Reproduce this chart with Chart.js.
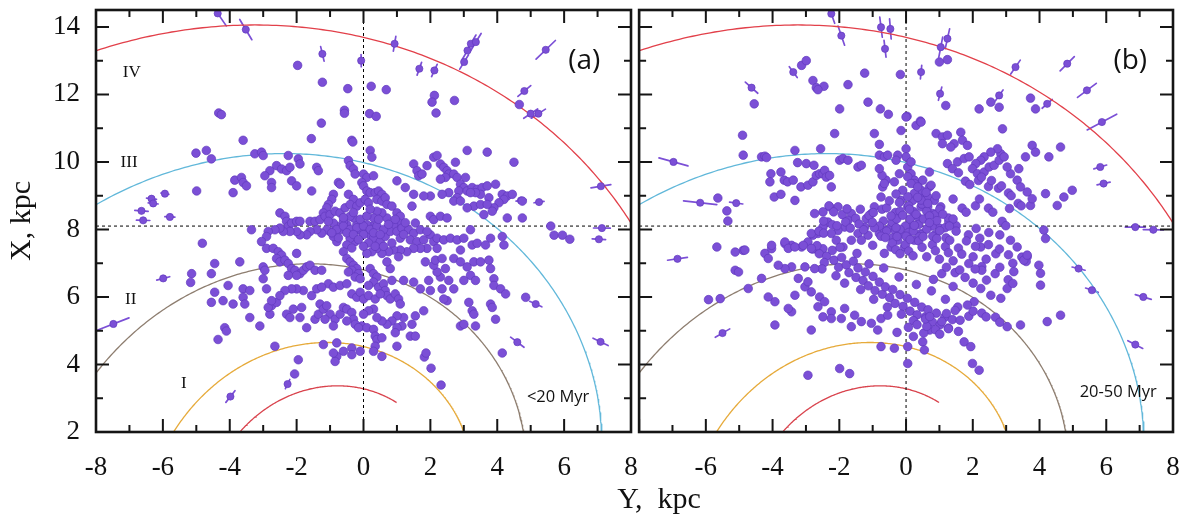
<!DOCTYPE html>
<html><head><meta charset="utf-8">
<script src="https://cdn.jsdelivr.net/npm/chart.js@4.4.1/dist/chart.umd.min.js"></script>
<style>
html,body{margin:0;padding:0;background:#fff;}
#wrap{position:relative;width:1183px;height:515px;overflow:hidden;background:#fff;}
#ca{position:absolute;left:0;top:0;}
#cb{position:absolute;left:634px;top:0;}
#xt{position:absolute;left:559px;top:481px;width:200px;text-align:center;line-height:36px;font:30px "Liberation Serif","Times New Roman",serif;color:#111;white-space:pre;}
</style></head><body>
<div id="wrap">
<canvas id="ca" width="660" height="515"></canvas>
<canvas id="cb" width="549" height="515"></canvas>
<div id="xt">Y,  kpc</div>
</div>
<script>
// ---------------- data ----------------
const xTicksA = [-8,-6,-4,-2,0,2,4,6,8];
const xTicksB = [-6,-4,-2,0,2,4,6,8];
const yTicks = [2,4,6,8,10,12,14];
const xRange = [-8, 8];
const yRange = [2, 14.5];
const sunPos = [0, 8.1];                 // [Y, X] of the Sun
const pitchDeg = -13;                    // spiral pitch angle
const armR0 = [13.69, 9.98, 6.80, 4.53, 3.28];   // arm radius where it crosses Y=0
const armThetaMin = [-80, -80, -80, -80, -80];
const armThetaMax = [80, 80, 80, 80, 19];
const armText = ['IV','III','II','I'];
const armTextY = [-6.93, -7.01, -6.96, -5.37];
const armTextX = [12.65, 9.99, 5.93, 3.45];
const panelTags = ['(a)','(b)'];
const panelTagPos = [[6.6, 12.98],[6.72, 13.0]];
const ageText = ['<20 Myr','20-50 Myr'];
const ageTextPos = [[5.82, 3.04],[6.36, 3.18]];

// panel (a) points [Y, X]
const pointsA = [
[-4.70,10.34],[-4.55,10.09],[-3.60,10.64],[-3.25,10.24],[-3.05,10.29],[-3.00,10.19],[-2.25,10.19],[-1.95,10.09],[-1.90,9.94],[-1.40,9.84],[-1.35,9.74],[-2.80,9.74],[-2.60,9.89],[-2.45,9.79],[-2.30,9.74],[-2.20,9.84],[-2.95,9.59],[-3.85,9.46],[-3.65,9.54],[-3.60,9.39],[-3.50,9.29],[-3.90,9.09],[-2.75,9.39],[-2.75,9.24],[-2.15,9.44],[-2.00,9.29],[-1.55,9.14],[-0.35,10.64],[-0.45,10.04],[-0.40,9.89],[-0.30,9.79],[-0.25,9.64],[0.20,10.34],[0.25,10.14],[0.00,9.64],[0.10,9.54],[0.30,9.59],[-0.75,9.39],[-0.70,9.34],[-0.05,9.39],[0.00,9.29],[0.10,9.14],[0.20,9.09],[0.35,9.09],[0.45,9.14],[0.55,9.04],[-0.45,9.04],[-0.30,8.89],[-0.90,9.04],[-0.95,8.89],[-1.05,8.74],[-1.10,8.64],[-1.20,8.49],[-2.50,8.49],[-2.35,8.39],[-2.30,8.24],[-2.25,8.09],[-2.15,8.19],[-2.00,8.24],[-1.90,8.24],[-1.60,8.24],[-1.45,8.24],[-1.30,8.29],[-1.15,8.39],[-1.00,8.44],[-0.85,8.54],[-0.70,8.49],[-0.55,8.64],[-0.40,8.74],[-0.20,8.69],[-0.10,8.79],[0.05,8.89],[0.15,8.79],[0.40,8.89],[0.55,8.84],[0.65,8.94],[0.70,8.74],[0.85,8.69],[1.00,8.49],[1.10,8.39],[1.05,8.19],[0.90,8.14],[0.70,8.34],[0.55,8.49],[0.40,8.54],[0.30,8.34],[0.25,8.09],[0.10,8.14],[-0.10,8.24],[-0.20,8.14],[-0.30,8.34],[-0.40,8.39],[-0.50,8.14],[-0.60,8.24],[-0.70,7.99],[-0.80,8.09],[-0.90,8.19],[-1.05,8.24],[-0.20,7.99],[-0.05,7.94],[0.10,7.94],[0.20,7.84],[0.30,7.74],[0.50,7.64],[0.65,7.79],[0.80,7.94],[1.00,7.94],[1.15,8.04],[1.35,7.99],[1.50,7.89],[1.55,8.19],[1.10,7.74],[1.40,7.69],[1.60,7.64],[1.80,7.69],[2.00,7.84],[2.10,7.64],[2.20,7.44],[1.90,7.44],[1.70,7.44],[1.50,7.44],[1.30,7.34],[1.10,7.39],[0.90,7.39],[0.75,7.34],[0.55,7.29],[0.40,7.44],[0.25,7.34],[0.10,7.29],[-0.25,7.64],[-0.40,7.74],[-0.50,7.54],[-0.60,7.34],[-0.80,7.64],[-0.90,7.79],[-1.00,7.94],[-1.10,7.99],[-1.25,7.89],[-1.40,7.99],[-1.60,7.94],[-1.70,7.84],[-1.90,7.84],[-2.00,7.94],[-2.20,7.94],[-2.40,7.94],[-2.50,8.04],[-2.65,7.99],[-2.85,7.94],[-2.90,7.79],[-3.05,7.64],[-2.90,7.44],[-2.70,7.44],[-2.55,7.34],[-2.45,7.24],[-2.00,7.29],[-3.35,7.99],[-4.82,7.59],
[1.50,9.94],[1.60,9.74],[1.65,9.59],[1.75,9.64],[1.90,9.89],[2.10,10.14],[2.20,10.19],[2.30,9.94],[2.40,9.84],[2.50,9.74],[2.55,9.64],[2.45,9.54],[2.30,9.49],[2.70,9.64],[2.80,9.54],[2.90,9.34],[3.00,9.24],[2.85,9.14],[2.80,8.94],[2.70,8.84],[2.90,8.84],[3.10,9.14],[3.25,9.24],[3.40,9.19],[3.55,9.24],[3.70,9.29],[3.95,9.34],[4.15,9.04],[4.30,8.99],[4.45,9.04],[4.20,8.89],[4.05,8.79],[3.90,8.64],[3.85,8.54],[3.75,8.94],[3.50,9.04],[3.35,9.09],[3.20,9.09],[2.75,9.99],[3.05,9.54],[3.10,10.34],[3.70,10.29],[4.50,9.99],[4.75,8.84],[4.75,8.34],[4.30,8.34],[3.60,8.44],[3.30,8.69],[3.10,8.64],[3.50,8.74],[3.70,8.74],[2.00,8.39],[2.10,8.29],[2.30,8.39],[2.50,8.34],[2.55,9.09],[2.35,9.04],[2.00,8.99],[1.80,8.99],[1.50,9.04],[1.25,9.24],[1.00,9.44],[1.45,8.69],[1.70,7.99],[1.90,7.94],[2.20,7.74],[2.40,7.69],[2.60,7.74],[2.80,7.69],[3.00,7.74],[3.20,7.99],[3.25,7.54],[3.40,7.59],[3.65,7.54],[3.80,7.74],[4.15,7.79],[4.20,7.54],[2.90,7.39],
[-0.80,8.00],[-0.60,8.10],[-0.40,8.00],[-0.20,8.05],[0.00,8.10],[0.20,8.00],[0.40,8.10],[0.60,8.00],[-0.50,7.90],[-0.30,7.85],[0.00,7.85],[0.30,7.90],[0.50,7.85],[-0.10,8.30],[0.10,8.40],[-0.30,8.50],[0.20,8.60],[-0.60,8.35],[0.45,8.30],[0.75,8.15],[-0.15,7.70],[0.15,7.60],[0.35,7.50],[-0.35,7.45],[0.00,7.50],[0.60,7.50],[0.85,7.60],[-0.75,7.75],[-0.95,7.90],[1.20,7.85],[0.95,8.30],[1.25,8.20],
[-4.45,6.99],[-4.55,6.69],[-3.70,7.04],[-3.00,6.89],[-2.95,6.79],[-2.60,7.14],[-2.50,7.04],[-2.35,7.09],[-2.25,6.99],[-2.15,6.84],[-2.05,6.79],[-1.90,6.69],[-1.80,6.79],[-1.70,6.89],[-1.60,6.94],[-1.45,6.79],[-1.25,6.79],[-2.00,6.64],[-2.25,6.64],[-0.50,7.14],[-0.40,7.04],[-0.30,6.94],[-0.20,6.84],[-0.35,6.79],[-0.45,6.74],[-0.15,6.69],[-0.25,6.59],[-0.10,6.54],[0.20,6.84],[0.30,6.69],[0.40,6.59],[0.30,6.44],[0.15,6.34],[0.45,6.29],[0.60,6.39],[0.65,6.19],[0.70,6.04],[0.80,5.94],[0.95,6.09],[1.05,5.94],[1.10,5.79],[0.85,6.49],[0.80,6.84],[0.70,7.04],[1.05,7.19],[1.20,6.49],[1.50,6.44],[1.70,6.24],[2.00,6.19],[1.95,6.49],[2.30,6.59],[2.55,6.49],[2.35,6.24],[2.20,6.74],[2.45,6.84],[2.70,7.14],[2.90,7.04],[3.10,6.89],[3.30,7.04],[3.50,7.04],[3.75,7.09],[3.80,6.84],[3.20,6.64],[3.00,6.49],[2.70,6.24],[3.35,6.49],[3.90,6.54],[3.90,6.34],[4.10,6.24],[4.25,6.09],[4.85,5.99],[1.85,7.04],[2.10,6.94],[2.15,7.09],[2.35,7.14],[2.50,5.89],[2.40,5.94],[3.15,5.84],[3.25,5.59],[3.30,5.49],[3.80,5.79],[3.85,5.69],[3.95,5.34],[2.90,5.14],[3.00,5.19],[3.35,5.14],[1.80,5.59],[1.55,5.44],[1.45,5.19],[1.40,4.84],[1.55,4.84],[1.20,5.39],[1.00,5.44],[0.85,5.29],[1.15,5.14],[1.00,5.09],[0.95,4.94],[0.70,5.19],[0.55,5.29],[0.40,5.39],[0.30,5.64],[0.15,5.59],[0.00,5.49],[-0.05,5.14],[0.10,5.09],[0.30,5.04],[0.35,4.84],[0.40,4.74],[0.55,4.79],[0.55,4.24],[1.00,4.54],[0.35,4.54],[0.30,4.39],[-0.10,4.39],[-0.35,4.49],[-0.35,4.29],[-0.60,4.39],[-0.80,4.24],[-0.85,4.09],[-0.80,4.64],[-0.90,4.34],[-1.20,4.59],[-1.95,4.14],[-2.65,4.54],[-4.15,5.09],[-4.10,4.99],[-4.35,4.74],[-3.40,5.39],[-3.10,5.14],[-2.80,5.49],[-2.75,5.74],[-2.60,5.84],[-2.85,5.69],[-2.30,5.49],[-2.20,5.39],[-2.10,5.64],[-1.85,5.69],[-1.90,5.39],[-1.70,5.09],[-1.45,5.34],[-1.35,5.49],[-1.30,5.79],[-1.20,5.64],[-1.10,5.74],[-1.00,5.49],[-0.85,5.34],[-0.70,5.49],[-0.60,5.69],[-0.50,5.64],[-0.35,5.54],[-0.30,5.34],[-0.25,5.19],[-0.15,5.09],[-0.50,5.29],[-0.90,5.14],[-1.15,5.34],[-1.55,6.04],[-1.80,6.19],[-2.00,6.24],[-2.15,6.24],[-2.35,6.19],[-2.50,6.04],[-2.75,5.89],[-2.90,6.24],[-3.00,6.54],[-3.60,6.24],[-3.40,6.19],[-3.60,5.99],[-3.55,5.79],[-3.90,5.79],[-4.20,5.89],[-4.55,5.84],[-4.45,6.14],[-4.05,6.34],[-1.05,6.39],[-0.90,6.29],[-0.70,6.34],[-0.50,6.39],[-1.40,6.24],[-1.25,6.29],[-0.35,6.09],[-0.20,5.99],[-0.10,6.14],[0.00,5.94],[0.15,6.04],[0.35,5.94],[0.50,6.09],[4.15,4.34],
[-1.97,12.86],[-1.23,12.36],[-0.47,12.17],[0.23,12.24],[0.68,12.14],[-4.33,11.45],[-4.25,11.40],[-1.26,11.15],[-0.57,11.53],[-0.57,11.44],[0.18,11.43],[0.38,11.35],[-1.56,10.69],[-0.32,10.59],[-5.01,10.26],[-4.99,9.14],[-5.14,6.69],[-5.17,6.43],[-2.06,3.72],[1.82,4.22],[1.87,4.34],[2.02,3.89],[2.32,3.39],[2.12,11.97],[2.05,11.77],[2.17,11.45],[2.72,11.82],[4.66,11.70],[5.60,8.10],[5.70,7.83],[5.95,7.83],[6.17,7.71]
];
// panel (a) points with visible distance errors [Y, X, half-length]
const errA = [
[-4.36,14.40,0.45],[-3.52,13.92,0.35],[-1.23,13.20,0.22],[-0.07,13.00,0.18],[0.93,13.50,0.22],[1.67,12.76,0.20],[2.12,12.71,0.20],[3.01,12.96,0.25],[3.11,13.30,0.30],[3.21,13.50,0.30],[3.36,13.55,0.30],[5.45,13.32,0.40],[4.81,12.10,0.25],[5.00,11.43,0.25],[5.23,11.43,0.25],[7.10,9.28,0.30],[4.71,8.86,0.15],[5.25,8.81,0.15],[7.13,8.04,0.25],[7.04,7.71,0.20],[-7.48,5.20,0.50],[-5.99,6.55,0.20],[-6.64,8.55,0.20],[-6.59,8.27,0.20],[-6.34,8.91,0.15],[-6.29,8.77,0.15],[-5.94,9.06,0.12],[-5.79,8.37,0.15],[-3.98,3.05,0.22],[-2.27,3.42,0.15],[4.60,4.66,0.25],[5.15,5.79,0.20],[7.09,4.67,0.25]
];

// panel (b) points [Y, X]
const pointsB = [
[-3.13,12.86],[-2.99,13.00],[-2.79,12.41],[-2.69,12.20],[-2.46,12.24],[-2.64,12.14],[-1.74,12.29],[-1.24,12.63],[-0.17,12.59],[-4.55,11.72],[-1.99,11.57],[-1.14,11.77],[-0.77,11.57],[-0.53,11.41],[0.03,11.35],[0.30,11.08],[0.43,11.21],[-2.14,10.84],[-0.95,10.84],[-0.15,10.93],[-4.90,10.79],[0.00,10.39],[0.00,10.15],[-0.80,10.52],[-0.80,10.20],[-0.65,10.15],[-0.55,10.20],[-0.25,10.20],[-0.30,10.05],[-3.33,10.34],[-2.56,10.39],[-4.88,10.20],[-4.33,10.15],[-4.23,10.17],[-4.18,10.13],[-5.64,8.93],[-5.37,8.55],[-5.34,8.25],[-4.05,9.65],[-4.08,9.41],[-3.75,9.70],[-3.65,9.46],[-3.55,9.41],[-3.33,8.86],[-3.38,9.46],[-3.25,9.98],[-3.95,8.96],[-3.75,9.04],[-2.99,9.95],[-2.76,9.90],[-3.15,9.26],[-2.94,9.31],[-2.79,9.41],[-2.69,9.60],[-2.59,9.65],[-2.49,9.65],[-2.44,9.75],[-2.39,9.55],[-2.29,9.60],[-2.24,9.26],[-1.99,10.05],[-1.89,10.10],[-1.74,10.05],[-1.44,9.85],[-1.34,9.90],[-2.04,8.67],[-2.29,8.67],[-2.49,8.52],[-2.74,8.47],[-1.64,8.47],[-1.74,8.27],[-1.84,8.07],[-2.04,7.97],[-2.34,8.22],[-2.49,8.07],[-2.64,7.88],[-2.79,7.83],[-2.24,7.88],[-2.09,7.68],[-1.89,7.48],[-1.64,7.68],[-1.44,7.88],[-1.24,8.07],[-1.19,8.32],[-1.04,8.47],[-0.95,8.67],[-0.75,8.96],[-0.70,9.26],[-0.60,9.46],[-0.72,9.60],[-0.80,9.80],[-0.65,9.36],[-1.34,7.68],[-1.14,7.83],[-1.00,7.53],[-0.80,7.88],[-0.65,7.98],[-0.35,9.41],[-0.20,9.65],[0.05,9.85],[0.15,9.65],[0.25,9.46],[0.35,9.31],[0.45,9.06],[0.55,8.86],[0.65,8.67],[0.70,9.26],[0.50,9.46],[-0.15,8.86],[0.05,8.67],[-0.20,8.47],[-0.35,8.27],[-0.45,8.07],[-0.15,7.88],[0.15,8.07],[0.35,8.37],[0.45,7.88],[0.25,7.68],[-0.05,7.48],[-0.25,7.68],[-0.45,7.48],[-0.65,7.29],[-2.79,7.43],[-2.64,7.38],[-2.49,7.43],[-3.13,7.48],[-3.43,7.53],[-3.63,7.58],[-4.03,7.43],[-4.23,7.29],[-4.88,7.38],[-5.67,7.48],[-2.84,7.88],[-2.94,7.63],
[1.00,12.96],[1.24,13.03],[1.19,11.67],[2.19,11.57],[2.54,11.77],[2.79,11.62],[3.73,11.89],[3.88,11.57],[0.00,11.33],[0.45,11.18],[0.90,10.84],[1.09,10.74],[1.24,10.79],[1.44,10.54],[1.34,10.44],[1.09,10.54],[1.64,10.88],[1.69,10.64],[1.84,10.49],[2.89,10.98],[3.78,10.49],[3.88,10.29],[4.28,10.15],[4.63,10.44],[3.58,10.15],[4.98,9.16],[4.73,8.96],[4.53,8.71],[4.18,9.06],[3.63,9.11],[3.73,8.71],[3.78,8.91],[3.38,9.80],[3.33,9.46],[3.43,9.26],[3.13,9.65],[3.03,9.85],[2.84,10.24],[2.74,10.39],[2.54,10.29],[2.34,10.15],[2.24,10.05],[2.09,9.95],[1.99,9.80],[2.14,9.65],[2.34,9.70],[2.49,9.85],[2.64,9.90],[2.79,10.05],[2.94,10.15],[1.24,9.95],[1.39,9.80],[1.54,10.00],[1.74,10.10],[1.89,10.15],
[1.57,9.68],[1.78,9.43],[1.91,9.33],[2.17,9.45],[2.26,9.55],[2.47,9.27],[2.56,9.45],[2.77,9.22],[2.86,9.29],[3.07,9.08],[3.15,9.00],[3.36,8.77],[3.45,8.70],[3.10,8.62],
[0.70,9.70],[0.75,9.31],[0.15,10.00],[0.05,9.56],[0.25,9.36],[0.45,9.16],[0.65,8.96],[0.85,8.86],[1.04,8.67],[0.80,8.47],[0.45,8.67],[0.20,8.86],
[1.41,8.90],[1.68,8.63],[1.80,8.51],[2.08,8.70],[2.20,8.90],[2.47,8.63],[2.60,8.51],[2.88,8.24],[2.99,8.11],[2.81,7.84],[2.48,7.91],[2.10,8.03],[1.87,7.84],[1.50,8.11],[1.28,8.23],[1.00,8.04],
[4.13,7.98],[4.18,7.73],[3.13,7.68],[3.33,7.48],[3.63,7.19],[2.24,7.48],
[-0.72,8.60],[-0.58,8.64],[-0.32,8.50],[-0.18,8.54],[0.08,8.70],[0.22,8.53],[0.48,8.75],[0.62,8.54],[0.88,8.44],[1.01,8.60],[1.27,8.34],[1.41,8.31],[-0.68,8.25],[-0.42,8.21],[-0.28,8.31],[-0.02,8.10],[0.12,8.31],[0.38,8.15],[0.52,8.31],[0.78,8.10],[0.92,8.26],[1.17,8.05],[-0.58,7.95],[-0.32,7.96],[-0.18,8.00],[0.08,7.91],[0.22,7.95],[0.48,7.85],[0.62,8.01],[0.88,7.85],[1.01,7.96],[0.25,9.07],[0.45,8.87],[0.65,8.77],[0.05,8.97],[-0.10,9.16],[0.15,9.36],[0.35,9.26],
[-0.45,8.40],[-0.10,8.42],[0.30,8.45],[0.70,8.40],[1.10,8.45],[-0.80,8.10],[-0.30,8.05],[0.25,8.12],[0.70,8.20],[1.30,8.10],[-0.40,7.75],[0.00,7.80],[0.40,7.78],[0.80,7.80],[1.20,7.75],[-0.20,8.80],[0.10,8.60],[0.35,8.95],[-0.50,8.85],[0.90,9.00],[-0.95,8.05],[-0.75,7.80],[1.50,7.95],[-0.30,9.05],[0.60,9.10],
[-2.31,8.70],[-2.17,8.52],[-1.91,8.44],[-1.77,8.61],[-1.51,8.33],[-1.37,8.60],[-1.11,8.41],[-0.98,8.50],[-2.47,8.25],[-2.21,8.14],[-2.07,8.11],[-1.81,8.22],[-1.67,8.04],[-1.41,8.16],[-1.27,7.99],[-1.01,8.21],[-2.61,7.95],[-2.47,7.89],
[-0.62,7.76],[-0.41,7.60],[-0.27,7.79],[-0.02,7.55],[0.12,7.70],[0.38,7.66],[0.51,7.79],[0.79,7.55],[0.92,7.73],[1.18,7.49],[1.31,7.68],[1.57,7.45],[1.81,7.66],[2.08,7.50],[2.21,7.74],[2.47,7.55],[-0.31,7.40],[-0.18,7.28],[0.08,7.36],[0.21,7.22],[0.48,7.47],[0.62,7.19],[0.88,7.37],[1.00,7.12],[1.27,7.31],[1.41,7.07],[1.67,7.27],[1.88,6.99],[2.01,7.19],[2.27,6.90],[2.40,7.12],[2.69,7.28],[2.80,7.42],[3.07,7.25],[3.20,7.00],[3.47,7.18],[3.60,7.05],
[-2.81,7.42],[-2.60,7.28],[-2.67,7.52],[-2.38,7.21],[-2.45,7.02],[-2.21,7.38],[-2.16,7.09],[-2.02,6.88],[-1.93,7.17],[-1.79,6.95],[-1.71,6.72],[-1.58,7.06],[-1.50,6.58],[-1.44,6.86],[-1.29,6.49],[-1.22,6.74],[-1.13,6.33],[-0.99,6.61],[-0.93,6.19],[-0.80,6.44],[-0.71,6.08],[-0.62,6.30],[-0.49,5.98],[-0.40,6.22],[-0.33,5.81],[-0.18,6.07],[-0.09,5.72],[0.04,5.96],[0.12,5.58],[0.26,5.84],[0.33,5.47],[0.47,5.70],[0.58,5.41],[0.66,5.62],[0.79,5.26],[0.91,5.52],[1.02,5.18],[1.16,5.40],[1.27,5.08],[1.39,5.33],[-2.52,6.83],[-2.10,6.63],[-1.84,6.41],[-1.36,6.22],[-0.97,5.93],[-0.56,5.70],[-0.14,5.49],[0.22,5.30],[0.71,5.02],[-1.98,7.47],[-1.47,7.29],[-1.11,6.98],[-0.67,6.86],[-0.21,6.59],[0.31,6.37],[0.76,6.18],[1.18,5.93],[1.55,5.70],
[-0.27,4.95],[0.07,5.10],[0.22,4.83],[0.53,4.93],[0.62,5.13],[0.88,5.03],[1.01,4.90],[1.27,5.06],[1.57,4.98],[1.74,4.67],[1.94,4.53],[0.50,4.67],
[0.33,5.18],[0.58,5.35],[0.71,5.42],[1.07,5.27],[1.21,5.51],[1.47,5.60],[1.62,5.31],[1.88,5.43],[2.01,5.58],[2.27,5.52],[2.40,5.41],[2.68,5.40],[2.81,5.25],
[3.03,5.12],[3.43,5.17],[4.23,5.27],[4.63,5.46],[4.03,6.70],[4.03,6.35],[3.98,6.94],[3.53,7.09],[3.63,7.24],[3.23,6.75],[3.03,6.25],[2.84,5.96],[2.54,6.05],[2.24,6.25],[2.04,5.86],[1.84,5.76],
[1.41,6.31],[1.77,6.58],[2.01,6.41],[2.27,6.79],[2.41,6.50],[2.67,6.69],[2.81,6.88],[3.06,6.51],[3.20,6.40],[0.82,6.52],[1.07,6.69],[1.21,6.88],[1.47,6.72],[1.61,6.80],[2.07,6.83],
[-2.59,6.00],[-2.84,6.15],[-2.64,5.71],[-2.44,5.86],[-2.24,5.56],[-1.84,5.66],[-1.54,5.46],[-1.34,5.27],[-1.04,5.22],[-0.85,5.02],[-0.75,5.36],[-0.55,5.46],[-1.64,5.12],[-1.94,5.36],[-2.24,5.36],[-2.49,5.41],[-2.84,5.02],[-3.43,5.56],[-3.53,5.66],[-3.93,5.86],[-4.13,6.00],[-3.33,6.05],[-3.03,6.30],[-3.23,6.55],[-2.94,6.45],[-2.74,6.84],[-3.03,6.89],[-3.43,6.89],[-3.63,6.84],[-3.83,6.94],[-4.13,7.14],[-4.33,6.55],[-4.73,6.25],[-4.83,7.39],[-4.03,7.53],[-3.63,7.63],[-3.53,7.44],[-3.33,7.48],[-3.08,7.53],[-2.84,7.44],[-3.93,5.17],[-0.75,4.53],[-0.35,4.48],[0.05,4.53],[0.55,4.43],
[-5.12,6.79],[-5.02,6.74],[-5.12,7.33],[-5.92,5.92],[-5.57,5.95],[-2.94,3.68],[-1.99,3.88],[-1.69,3.73],[0.05,4.03],[1.99,4.03],[2.19,3.83]
];
const errB = [
[-2.24,14.39,0.30],[-1.94,13.74,0.30],[-0.75,13.99,0.30],[-0.47,13.94,0.30],[-0.63,13.35,0.25],[-3.38,12.66,0.20],[0.45,12.66,0.20],[-4.63,12.20,0.25],[-6.97,10.00,0.45],[-6.17,8.79,0.50],[-5.09,8.78,0.20],[1.04,13.40,0.30],[1.24,13.65,0.30],[1.02,12.02,0.20],[2.79,11.97,0.20],[3.28,12.81,0.25],[4.23,11.72,0.20],[4.83,12.91,0.30],[5.42,12.12,0.35],[5.87,11.18,0.50],[5.82,9.85,0.20],[5.92,9.36,0.20],[6.87,8.07,0.30],[7.41,7.99,0.30],[-6.85,7.13,0.30],[-5.50,4.93,0.25],[5.17,6.84,0.20],[5.57,6.20,0.20],[7.11,6.00,0.25],[6.87,4.59,0.25]
];

// ---------------- styles ----------------
const SERIF = '"Liberation Serif","Times New Roman",serif';
const SANS = '"Open Sans","Liberation Sans",sans-serif';
const PT = '#7b4fd6', PT_EDGE = 'rgba(96,56,190,0.85)';
const ARM_COLORS = ['#e2404a','#62b8da','#8e7e70','#e6aa3a','#d9434d'];

function armData(i){
  const k = Math.tan(pitchDeg*Math.PI/180);
  const out = [];
  for (let t = armThetaMin[i]; t <= armThetaMax[i] + 1e-9; t += 0.5){
    const th = t*Math.PI/180;
    const R = armR0[i]*Math.exp(k*th);
    out.push({x: R*Math.sin(th), y: R*Math.cos(th)});
  }
  return out;
}

const framePlugin = {
  id: 'frame',
  beforeDatasetsDraw(chart, args, o){
    const {ctx, chartArea: ca, scales: {x, y}} = chart;
    ctx.save();
    ctx.beginPath(); ctx.rect(ca.left, ca.top, ca.right-ca.left, ca.bottom-ca.top); ctx.clip();
    ctx.strokeStyle = PT; ctx.lineWidth = 1.7; ctx.lineCap = 'round';
    for (const [py, px, h] of o.errs){
      const dy = py - sunPos[0], dx = px - sunPos[1];
      const d = Math.hypot(dy, dx), uy = dy/d, ux = dx/d;
      ctx.beginPath();
      ctx.moveTo(x.getPixelForValue(py - uy*h), y.getPixelForValue(px - ux*h));
      ctx.lineTo(x.getPixelForValue(py + uy*h), y.getPixelForValue(px + ux*h));
      ctx.stroke();
    }
    ctx.restore();
  },
  afterDraw(chart, args, o){
    const {ctx, chartArea: ca, scales: {x, y}} = chart;
    ctx.save();
    ctx.fillStyle = '#111';
    ctx.textAlign = 'center'; ctx.textBaseline = 'middle';
    if (o.armLabels){
      ctx.font = '17px ' + SERIF;
      armText.forEach((t, i) => ctx.fillText(t, x.getPixelForValue(armTextY[i]), y.getPixelForValue(armTextX[i])));
    }
    ctx.font = '28px ' + SANS;
    ctx.fillText(panelTags[o.idx], x.getPixelForValue(panelTagPos[o.idx][0]), y.getPixelForValue(panelTagPos[o.idx][1]));
    ctx.font = '16.5px ' + SANS;
    ctx.fillText(ageText[o.idx], x.getPixelForValue(ageTextPos[o.idx][0]), y.getPixelForValue(ageTextPos[o.idx][1]));
    ctx.strokeStyle = '#151515'; ctx.lineWidth = 2;
    ctx.beginPath();
    for (let v = Math.ceil(x.min); v <= x.max; v += 1){
      const p = x.getPixelForValue(v), L = (v % 2 === 0) ? 13 : 7;
      ctx.moveTo(p, ca.bottom); ctx.lineTo(p, ca.bottom - L);
      ctx.moveTo(p, ca.top); ctx.lineTo(p, ca.top + L);
    }
    for (let v = Math.ceil(y.min); v <= y.max; v += 1){
      const p = y.getPixelForValue(v), L = (v % 2 === 0) ? 13 : 7;
      ctx.moveTo(ca.left, p); ctx.lineTo(ca.left + L, p);
      ctx.moveTo(ca.right, p); ctx.lineTo(ca.right - L, p);
    }
    ctx.stroke();
    ctx.lineWidth = 2.6;
    ctx.strokeRect(ca.left, ca.top, ca.right - ca.left, ca.bottom - ca.top);
    ctx.restore();
  }
};

function makeChart(id, pts, errs, idx, xt, showY){
  const datasets = [
    {data: pts.map(p => ({x: p[0], y: p[1]})), pointRadius: 4.3, pointBackgroundColor: PT, pointBorderColor: PT_EDGE, pointBorderWidth: 0.8, showLine: false},
    {data: errs.map(p => ({x: p[0], y: p[1]})), pointRadius: 3.6, pointBackgroundColor: PT, pointBorderColor: PT_EDGE, pointBorderWidth: 0.8, showLine: false},
    {data: [{x: sunPos[0], y: yRange[0]}, {x: sunPos[0], y: yRange[1]}], showLine: true, borderColor: '#000', borderWidth: 1, borderDash: [3, 3], pointRadius: 0},
    {data: [{x: xRange[0], y: sunPos[1]}, {x: xRange[1], y: sunPos[1]}], showLine: true, borderColor: '#000', borderWidth: 1, borderDash: [3, 3], pointRadius: 0}
  ];
  armR0.forEach((r, i) => datasets.push({data: armData(i), showLine: true, borderColor: ARM_COLORS[i], borderWidth: 1.3, pointRadius: 0, tension: 0}));
  const tickFont = {family: SERIF, size: 27};
  return new Chart(document.getElementById(id), {
    type: 'scatter',
    data: {datasets},
    options: {
      responsive: false, animation: false, events: [],
      layout: {padding: showY ? {left: 0, right: 29, top: 10, bottom: 0} : {left: 3, right: 10, top: 10, bottom: 0}},
      plugins: {legend: {display: false}, tooltip: {enabled: false}, frame: {errs, idx, armLabels: showY}},
      scales: {
        x: {
          type: 'linear', min: xRange[0], max: xRange[1],
          afterBuildTicks: s => { s.ticks = xt.map(v => ({value: v})); },
          ticks: {font: tickFont, color: '#111', padding: 20, maxRotation: 0, autoSkip: false, callback: v => String(v)},
          grid: {display: false, drawTicks: false}, border: {display: false},
          afterFit: s => { s.height = 83; s.paddingLeft = 0; s.paddingRight = 0; }
        },
        y: {
          type: 'linear', min: yRange[0], max: yRange[1], display: showY,
          afterBuildTicks: s => { s.ticks = yTicks.map(v => ({value: v})); },
          ticks: {font: tickFont, color: '#111', padding: 16, autoSkip: false, callback: v => String(v)},
          grid: {display: false, drawTicks: false}, border: {display: false},
          title: {display: showY, text: 'X, kpc', font: {family: SERIF, size: 30}, color: '#111', padding: {top: 4, bottom: 0}},
          afterFit: s => { s.width = showY ? 96 : 0; s.paddingTop = 0; s.paddingBottom = 0; }
        }
      }
    },
    plugins: [framePlugin]
  });
}

makeChart('ca', pointsA, errA, 0, xTicksA, true);
makeChart('cb', pointsB, errB, 1, xTicksB, false);
</script>
</body></html>
